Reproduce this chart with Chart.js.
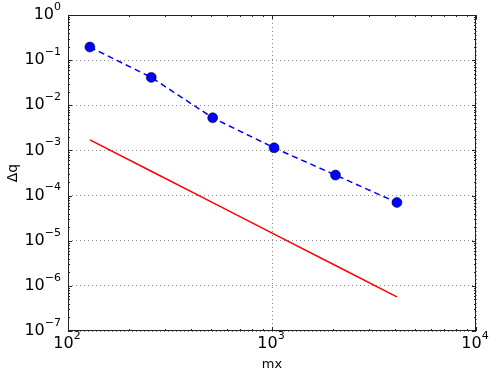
<!DOCTYPE html>
<html>
<head>
<meta charset="utf-8">
<script src="https://cdn.jsdelivr.net/npm/chart.js@4"></script>
<style>
    body { margin: 0; background: #fff; }
    canvas { display: block; }
</style>
</head>
<body>
<canvas id="chart" width="498" height="381"></canvas>
<script>
// values
const mx = [128, 256, 512, 1024, 2048, 4096];
const dq = [0.195, 0.0415, 0.00528, 0.00114, 0.000284, 0.0000703];
const refLine = [1.72e-3, 3.46e-4, 6.97e-5, 1.40e-5, 2.82e-6, 5.68e-7];

const xDecades = [2, 3, 4];
const yDecades = [0, -1, -2, -3, -4, -5, -6, -7];

const FONT = "DejaVu Sans";

function points(ys) {
    return mx.map((x, i) => ({ x, y: ys[i] }));
}

function decadeTicks(exps) {
    return exps.map(e => ({ value: Math.pow(10, e) }));
}

function minorValues(exps) {
    const lo = Math.min(...exps), hi = Math.max(...exps);
    const out = [];
    for (let e = lo; e < hi; e++) {
        for (let k = 2; k <= 9; k++) out.push(k * Math.pow(10, e));
    }
    return out;
}

function powLabel(ctx, base, exp, x, y, align) {
    ctx.font = "16px " + FONT;
    const wb = ctx.measureText(base).width;
    ctx.font = "11px " + FONT;
    const we = ctx.measureText(exp).width;
    let left = x;
    if (align === "right") left = x - wb - we;
    if (align === "center") left = x - (wb + we) / 2;
    ctx.textAlign = "left";
    ctx.textBaseline = "middle";
    ctx.font = "16px " + FONT;
    ctx.fillText(base, left, y);
    ctx.font = "11px " + FONT;
    ctx.fillText(exp, left + wb, y - 8);
}

const framePlugin = {
    id: "frame",
    afterDraw(chart) {
        const { ctx, chartArea: a } = chart;
        const xs = chart.scales.x, ys = chart.scales.y;
        ctx.save();
        ctx.setLineDash([]);
        ctx.strokeStyle = "#222";
        ctx.lineWidth = 1;
        ctx.strokeRect(a.left + 0.5, a.top + 0.5, a.right - a.left - 1, a.bottom - a.top - 1);

        ctx.beginPath();
        xDecades.forEach(e => {
            const px = Math.round(xs.getPixelForValue(Math.pow(10, e))) + 0.5;
            ctx.moveTo(px, a.bottom); ctx.lineTo(px, a.bottom - 4);
            ctx.moveTo(px, a.top); ctx.lineTo(px, a.top + 4);
        });
        minorValues(xDecades).forEach(v => {
            const px = Math.round(xs.getPixelForValue(v)) + 0.5;
            ctx.moveTo(px, a.bottom); ctx.lineTo(px, a.bottom - 2);
            ctx.moveTo(px, a.top); ctx.lineTo(px, a.top + 2);
        });
        yDecades.forEach(e => {
            const py = Math.round(ys.getPixelForValue(Math.pow(10, e))) + 0.5;
            ctx.moveTo(a.left, py); ctx.lineTo(a.left + 4, py);
            ctx.moveTo(a.right, py); ctx.lineTo(a.right - 4, py);
        });
        minorValues(yDecades).forEach(v => {
            const py = Math.round(ys.getPixelForValue(v)) + 0.5;
            ctx.moveTo(a.left, py); ctx.lineTo(a.left + 2, py);
            ctx.moveTo(a.right, py); ctx.lineTo(a.right - 2, py);
        });
        ctx.stroke();

        ctx.fillStyle = "#000";
        xDecades.forEach(e => {
            const px = xs.getPixelForValue(Math.pow(10, e));
            powLabel(ctx, "10", String(e), px - 1, a.bottom + 13, "center");
        });
        yDecades.forEach(e => {
            const py = ys.getPixelForValue(Math.pow(10, e));
            powLabel(ctx, "10", e < 0 ? "\u2212" + (-e) : String(e), a.left - 7, py, "right");
        });

        ctx.font = "13px " + FONT;
        ctx.textAlign = "center";
        ctx.textBaseline = "middle";
        ctx.fillText("mx", (a.left + a.right) / 2, 365);

        ctx.translate(13, (a.top + a.bottom) / 2);
        ctx.rotate(-Math.PI / 2);
        ctx.font = "14px " + FONT;
        ctx.fillText("\u0394q", 0, 0);
        ctx.restore();
    }
};

new Chart(document.getElementById("chart"), {
    type: "line",
    data: {
        datasets: [
            {
                data: points(dq),
                borderColor: "#0000ff",
                borderWidth: 1.5,
                borderDash: [6, 4],
                pointRadius: 5,
                pointBackgroundColor: "#0000ff",
                pointBorderColor: "#000",
                pointBorderWidth: 0.5,
                tension: 0,
                fill: false
            },
            {
                data: points(refLine),
                borderColor: "#ff0000",
                borderWidth: 1.5,
                pointRadius: 0,
                tension: 0,
                fill: false
            }
        ]
    },
    options: {
        responsive: false,
        animation: false,
        devicePixelRatio: 1,
        layout: { padding: { left: 68, right: 22, top: 15, bottom: 50 } },
        plugins: { legend: { display: false }, tooltip: { enabled: false } },
        scales: {
            x: {
                type: "logarithmic",
                min: 100,
                max: 10000,
                afterBuildTicks: s => { s.ticks = decadeTicks(xDecades); },
                ticks: { display: false },
                grid: { color: "#888", lineWidth: 1, drawTicks: false },
                border: { display: false, dash: [1, 3] }
            },
            y: {
                type: "logarithmic",
                min: 1e-7,
                max: 1,
                afterBuildTicks: s => { s.ticks = decadeTicks(yDecades); },
                ticks: { display: false },
                grid: { color: "#888", lineWidth: 1, drawTicks: false },
                border: { display: false, dash: [1, 3] }
            }
        }
    },
    plugins: [framePlugin]
});
</script>
</body>
</html>
